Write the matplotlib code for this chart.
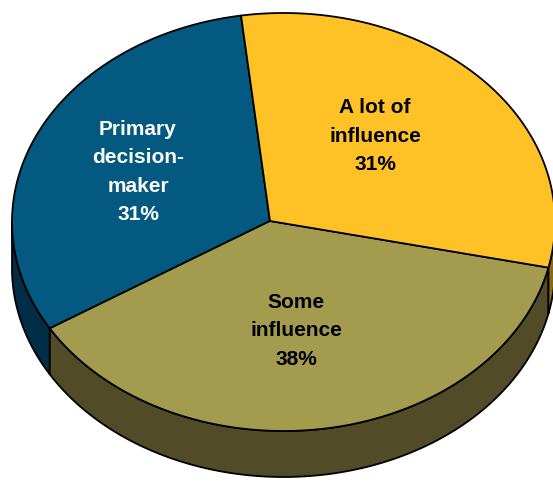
import numpy as np
import matplotlib.pyplot as plt

plt.rcParams['font.family'] = ['Liberation Sans', 'DejaVu Sans']

labels = ['Primary\ndecision-\nmaker', 'Some\ninfluence', 'A lot of\ninfluence']
values = [31, 38, 31]
top_colors = ['#03597F', '#A39B4E', '#FEC226']
side_colors = ['#022D46', '#514B27', '#8A6A12']
text_colors = ['white', 'black', 'black']
label_pos = [(138, 172), (296, 331), (375, 136)]

# ellipse geometry in pixel units
cx, cy, a, b = 283.5, 222, 271.5, 209
vx, vy = 270, 221
depth = 46
start = 99.0

fig = plt.figure(figsize=(5.53, 4.83), dpi=100)
ax = fig.add_axes([0, 0, 1, 1])
ax.set_xlim(0, 553)
ax.set_ylim(483, 0)
ax.axis('off')


def ell(t, dy=0):
    t = np.radians(t)
    return cx + a * np.cos(t), cy - b * np.sin(t) + dy


fr = np.array(values) / sum(values)
edges = start + 360 * np.concatenate([[0], np.cumsum(fr)])

# side walls (front half only, 180..360)
for i in range(len(values)):
    t1, t2 = edges[i], edges[i + 1]
    for off in (0, 360, -360):
        lo, hi = max(t1 + off, 180), min(t2 + off, 360)
        if hi <= lo:
            continue
        ts = np.linspace(lo, hi, 100)
        xt, yt = ell(ts)
        xb, yb = ell(ts[::-1], depth)
        ax.fill(np.r_[xt, xb], np.r_[yt, yb], fc=side_colors[i],
                ec='black', lw=1.3, zorder=1)

# top wedges
for i in range(len(values)):
    ts = np.linspace(edges[i], edges[i + 1], 200)
    xs, ys = ell(ts)
    ax.fill(np.r_[vx, xs], np.r_[vy, ys], fc=top_colors[i],
            ec='black', lw=1.3, zorder=2, joinstyle='round')
    x, y = label_pos[i]
    ax.text(x, y, f'{labels[i]}\n{values[i]}%', ha='center', va='center',
            fontsize=15, fontweight='bold', color=text_colors[i],
            linespacing=1.62, zorder=3)

fig.savefig('out.png', dpi=100)
